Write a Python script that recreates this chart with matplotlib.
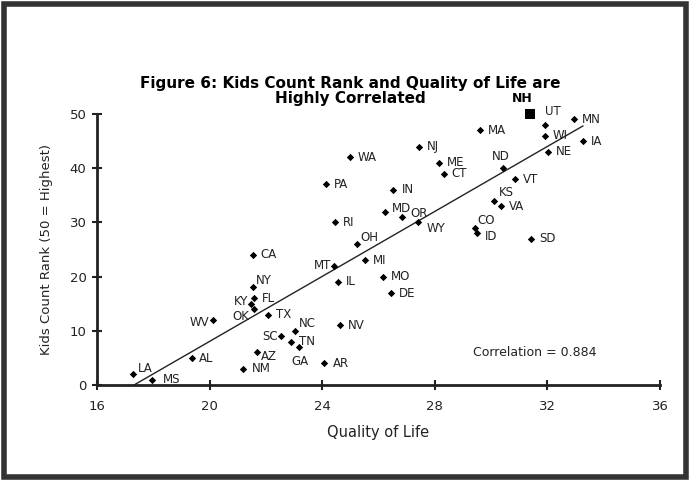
import numpy as np
import matplotlib
matplotlib.use("Agg")
import matplotlib.pyplot as plt
from matplotlib.patches import Rectangle

# quality of life score vs Kids Count rank, per state
states = ["LA", "MS", "AL", "WV", "CA", "NY", "FL", "KY", "OK", "TX", "SC", "AZ", "NM",
          "OH", "MT", "MI", "IL", "MO", "DE", "NC", "TN", "GA", "NV", "AR",
          "NJ", "WA", "ME", "CT", "PA", "IN", "MD", "OR", "WY", "RI", "MA",
          "UT", "MN", "WI", "IA", "NE", "ND", "VT", "KS", "VA", "CO", "ID", "SD"]
quality = [17.28, 17.94, 19.36, 20.13, 21.53, 21.55, 21.56, 21.46, 21.56, 22.07, 22.53, 21.68, 21.20,
           25.22, 24.42, 25.52, 24.57, 26.15, 26.43, 23.02, 22.89, 23.19, 24.63, 24.08,
           27.43, 24.99, 28.16, 28.31, 24.13, 26.53, 26.24, 26.85, 27.42, 24.45, 29.61,
           31.90, 32.93, 31.90, 33.26, 32.02, 30.44, 30.86, 30.09, 30.36, 29.42, 29.51, 31.41]
rank = [2, 1, 5, 12, 24, 18, 16, 15, 14, 13, 9, 6, 3,
        26, 22, 23, 19, 20, 17, 10, 8, 7, 11, 4,
        44, 42, 41, 39, 37, 36, 32, 31, 30, 30, 47,
        48, 49, 46, 45, 43, 40, 38, 34, 33, 29, 28, 27]

nh_quality = 31.38
nh_rank = 50

x_ticks = [16, 20, 24, 28, 32, 36]
y_ticks = [0, 10, 20, 30, 40, 50]
correlation = 0.884

# label offsets in pixels (dx, dy, ha); default is to the right
offsets = {
    "LA": (5, 6, "left"), "MS": (11, 0, "left"), "WV": (-4, -3, "right"),
    "NY": (3, 7, "left"), "KY": (-2, 2, "right"), "OK": (-4, -7, "right"),
    "SC": (-3, 0, "right"), "AZ": (4, -4, "left"), "OH": (4, 7, "left"),
    "MT": (-3, 0, "right"), "NC": (4, 7, "left"), "GA": (1, -14, "center"),
    "MD": (7, 3, "left"), "OR": (8, 3, "left"), "WY": (8, -6, "left"),
    "UT": (0, 13, "left"), "ND": (-3, 12, "center"), "KS": (5, 8, "left"),
    "CO": (3, 7, "left"), "ID": (8, -3, "left"), "AL": (7, -1, "left"),
    "DE": (8, -1, "left"), "TN": (8, 0, "left"),
}

INK = "#222222"

fig = plt.figure(figsize=(6.9, 4.8), dpi=100)
ax = fig.add_axes([0.1406, 0.198, 0.8159, 0.5645])

ax.scatter(quality, rank, marker="D", s=14, color="black", zorder=3, linewidths=0)
ax.scatter([nh_quality], [nh_rank], marker="s", s=55, color="black", zorder=4,
           linewidths=0, clip_on=False)

for st, qx, ry in zip(states, quality, rank):
    dx, dy, ha = offsets.get(st, (8, 0, "left"))
    ax.annotate(st, (qx, ry), xytext=(dx, dy), textcoords="offset pixels",
                ha=ha, va="center", fontsize=8.5, color=INK)
ax.annotate("NH", (nh_quality, nh_rank), xytext=(-8, 15), textcoords="offset pixels",
            ha="center", va="center", fontsize=9, fontweight="bold", color="black")

# linear trendline over the data range
all_x = np.array(quality + [nh_quality])
all_y = np.array(rank + [nh_rank])
slope, icpt = np.polyfit(all_x, all_y, 1)
xs = np.array([all_x.min(), all_x.max()])
ax.plot(xs, slope * xs + icpt, color=INK, lw=1, zorder=2)

ax.text(29.36, 5.9, f"Correlation = {correlation}", fontsize=9, color=INK, va="center")

ax.set_xlim(16, 36)
ax.set_ylim(0, 50)
ax.set_xticks(x_ticks)
ax.set_yticks(y_ticks)
for side in ("top", "right"):
    ax.spines[side].set_visible(False)
for side in ("left", "bottom"):
    ax.spines[side].set_linewidth(2)
    ax.spines[side].set_color(INK)
ax.tick_params(direction="inout", length=7, width=1.5, color=INK,
               labelsize=9.5, labelcolor=INK)
ax.tick_params(axis="x", pad=7)
ax.tick_params(axis="y", pad=4)
ax.set_xlabel("Quality of Life", fontsize=10.5, color=INK, labelpad=9)
ax.set_ylabel("Kids Count Rank (50 = Highest)", fontsize=9.5, color=INK, labelpad=12)

fig.text(0.508, 0.81, "Figure 6: Kids Count Rank and Quality of Life are\nHighly Correlated",
         ha="center", va="center", fontsize=11, fontweight="bold", linespacing=1.0)

fig.patches.append(Rectangle((0.0065, 0.006), 0.988, 0.986, transform=fig.transFigure,
                             fill=False, edgecolor="#333333", lw=4))

fig.savefig("out.png", dpi=100)
